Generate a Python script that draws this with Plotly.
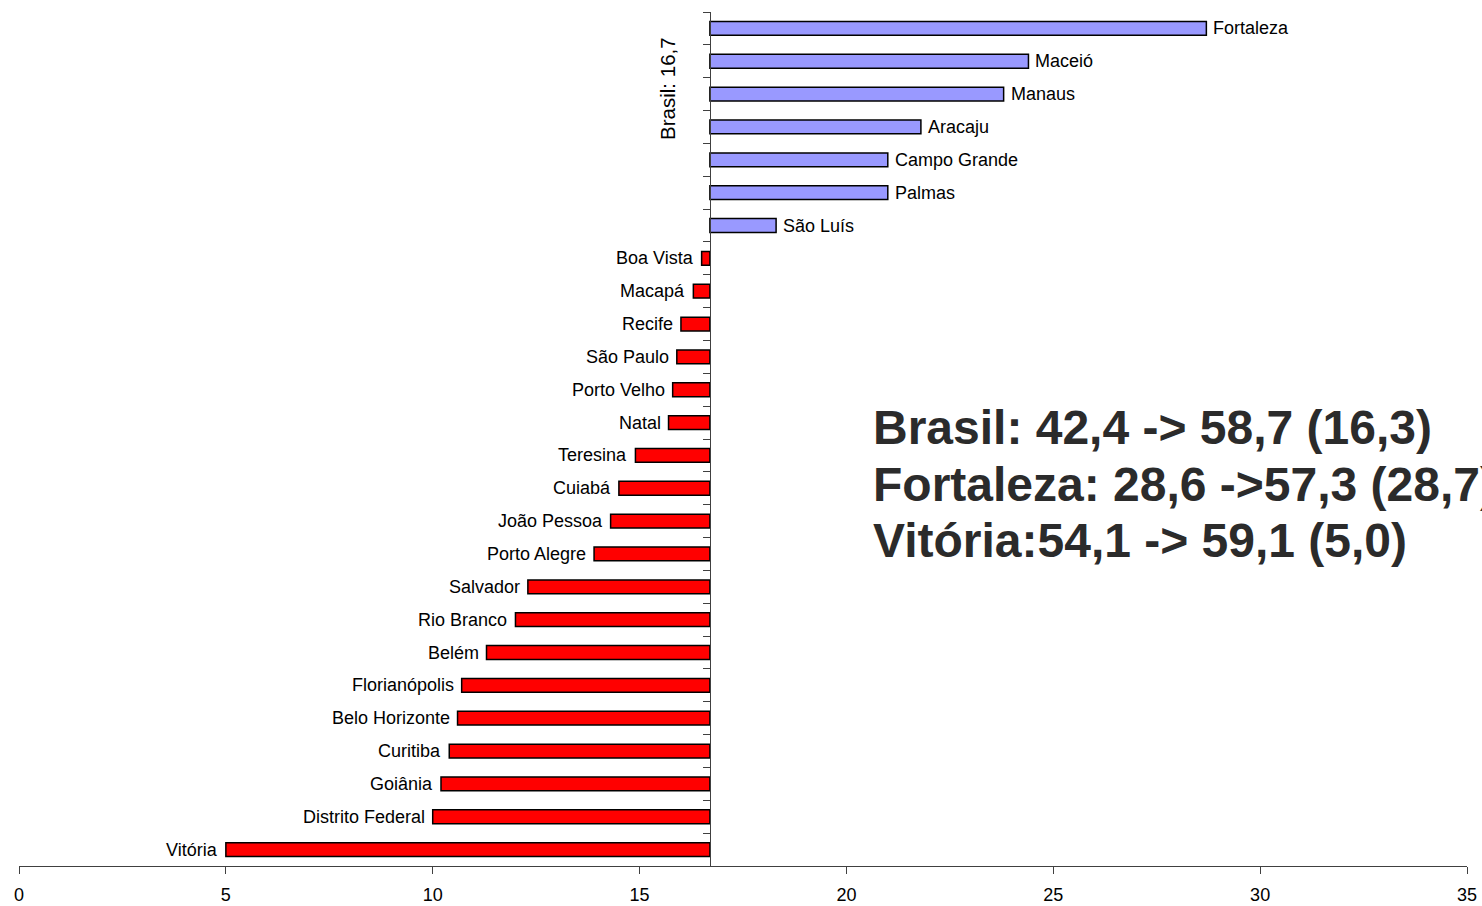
import plotly.graph_objects as go

# Data (top to bottom)
cities = ["Fortaleza", "Maceió", "Manaus", "Aracaju", "Campo Grande", "Palmas", "São Luís",
          "Boa Vista", "Macapá", "Recife", "São Paulo", "Porto Velho", "Natal", "Teresina",
          "Cuiabá", "João Pessoa", "Porto Alegre", "Salvador", "Rio Branco", "Belém",
          "Florianópolis", "Belo Horizonte", "Curitiba", "Goiânia", "Distrito Federal", "Vitória"]
values = [28.7, 24.4, 23.8, 21.8, 21.0, 21.0, 18.3,
          16.5, 16.3, 16.0, 15.9, 15.8, 15.7, 14.9,
          14.5, 14.3, 13.9, 12.3, 12.0, 11.3,
          10.7, 10.6, 10.4, 10.2, 10.0, 5.0]
brasil = 16.7
x_ticks = [0, 5, 10, 15, 20, 25, 30, 35]
note_lines = ["Brasil: 42,4 -> 58,7 (16,3)",
              "Fortaleza: 28,6 ->57,3 (28,7)",
              "Vitória:54,1 -> 59,1 (5,0)"]
note_y = [0.5129, 0.4473, 0.3806]

FONT = "Liberation Sans, Arial, sans-serif"

colors = ["#9999ff" if v >= brasil else "#ff0000" for v in values]
deltas = [v - brasil for v in values]

fig = go.Figure()
fig.add_trace(go.Bar(
    y=cities, x=deltas, base=brasil, orientation="h",
    marker=dict(color=colors, line=dict(color="black", width=1.5)),
    width=0.42, hoverinfo="skip",
))

annotations = []
for c, v in zip(cities, values):
    above = v >= brasil
    annotations.append(dict(
        x=v, y=c, xref="x", yref="y", text=c, showarrow=False,
        xanchor="left" if above else "right", yanchor="middle",
        xshift=5 if above else -6,
        font=dict(family=FONT, size=18, color="black"),
    ))

annotations.append(dict(
    x=brasil, y=0.911, xref="x", yref="paper", text="Brasil: 16,7",
    showarrow=False, textangle=-90, xshift=-43, xanchor="center", yanchor="middle",
    font=dict(family=FONT, size=20.5, color="black"),
))

for line, yy in zip(note_lines, note_y):
    annotations.append(dict(
        x=0.5885, y=yy, xref="paper", yref="paper", xanchor="left", yanchor="middle",
        align="left", showarrow=False, text=line,
        font=dict(family=FONT, size=48, color="#2b2b2b", weight="bold"),
    ))

fig.update_layout(
    width=1482, height=906,
    margin=dict(l=19, r=15, t=12, b=40, autoexpand=False),
    plot_bgcolor="white", paper_bgcolor="white",
    showlegend=False,
    annotations=annotations,
    font=dict(family=FONT, size=18, color="black"),
    xaxis=dict(
        range=[0, 35], tickvals=x_ticks, ticktext=[str(t) for t in x_ticks],
        showgrid=False, zeroline=False, showline=True, linecolor="#404040", linewidth=1,
        ticks="outside", ticklen=7, tickcolor="#404040", ticklabelstandoff=5,
        tickfont=dict(family=FONT, size=18, color="black"), automargin=False,
    ),
    yaxis=dict(
        autorange="reversed", showgrid=False, zeroline=False,
        showline=True, linecolor="#404040", linewidth=1,
        ticks="outside", ticklen=7, tickcolor="#404040", tickson="boundaries",
        showticklabels=False, anchor="free", position=brasil / 35, automargin=False,
    ),
)

post = ("document.body.style.margin='0';document.body.style.overflow='hidden';")

fig.write_html("out.html", config={"displayModeBar": False}, post_script=post)
